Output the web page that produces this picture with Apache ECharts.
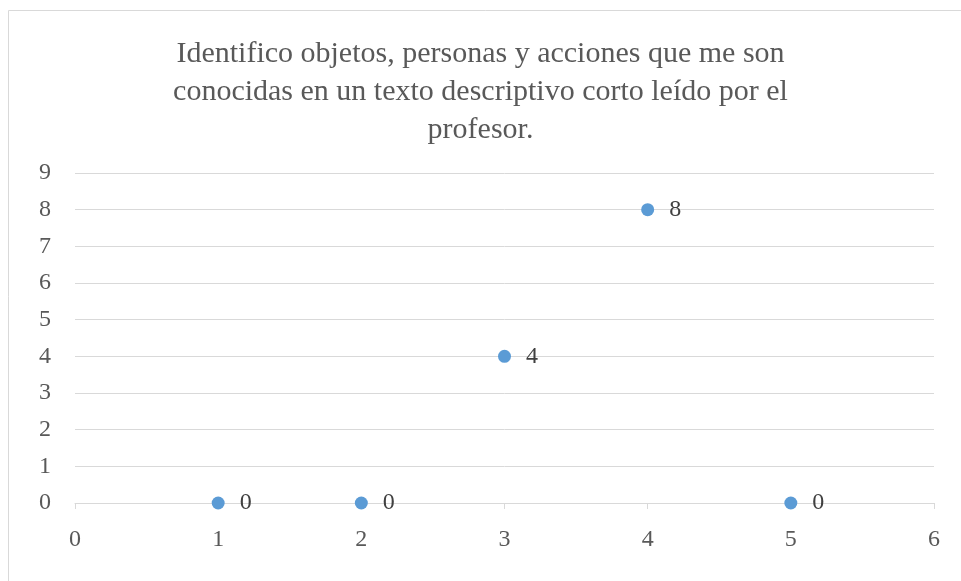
<!DOCTYPE html>
<html><head><meta charset="utf-8">
<script src="https://cdn.jsdelivr.net/npm/echarts@6/dist/echarts.min.js"></script>
<style>html,body{margin:0;padding:0;background:#fff}#c{width:961px;height:581px}</style>
</head><body><div id="c"></div>
<script>
const titleText = 'Identifico objetos, personas y acciones que me son\nconocidas en un texto descriptivo corto leído por el\nprofesor.';
const xValues = [1, 2, 3, 4, 5];
const yValues = [0, 0, 4, 8, 0];
const xTicks = {min: 0, max: 6, interval: 1};
const yTicks = {min: 0, max: 9, interval: 1};

const chart = echarts.init(document.getElementById('c'));
const font = 'Liberation Serif, Times New Roman, serif';
chart.setOption({
  animation: false,
  graphic: [{type: 'rect', shape: {x: 8.5, y: 10.5, width: 970, height: 600}, style: {fill: 'none', stroke: '#D9D9D9', lineWidth: 1}, silent: true}],
  title: {text: titleText, left: 'center', top: 30, textStyle: {fontFamily: font, fontSize: 30, fontWeight: 'normal', color: '#595959', lineHeight: 38}},
  grid: {left: 75, right: 27, top: 173, bottom: 78},
  xAxis: {type: 'value', min: xTicks.min, max: xTicks.max, interval: xTicks.interval,
    axisLine: {show: true, lineStyle: {color: '#D9D9D9', width: 1}},
    axisTick: {show: true, length: 6, lineStyle: {color: '#D9D9D9'}},
    splitLine: {show: false},
    axisLabel: {fontFamily: font, fontSize: 24, color: '#595959', margin: 25}},
  yAxis: {type: 'value', min: yTicks.min, max: yTicks.max, interval: yTicks.interval,
    axisLine: {show: false}, axisTick: {show: false},
    splitLine: {show: true, lineStyle: {color: '#D9D9D9', width: 1}},
    axisLabel: {fontFamily: font, fontSize: 24, color: '#595959', margin: 24}},
  series: [{type: 'scatter', data: xValues.map((x, i) => [x, yValues[i]]),
    symbol: 'circle', symbolSize: 13, itemStyle: {color: '#5B9BD5', opacity: 1},
    label: {show: true, position: 'right', distance: 15, formatter: p => p.value[1], fontFamily: font, fontSize: 24, color: '#404040'}}]
});
</script></body></html>
